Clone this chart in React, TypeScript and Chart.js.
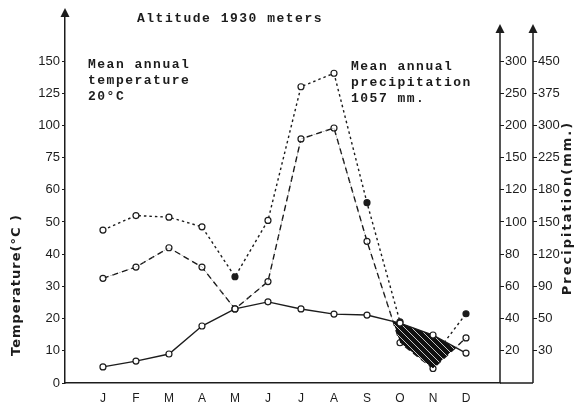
import React, { useEffect, useRef } from "react";
import { Chart, registerables } from "chart.js";

Chart.register(...registerables);

// ---- data ----
const months = ["J", "F", "M", "A", "M", "J", "J", "A", "S", "O", "N", "D"];
const tempTicks = [0, 10, 20, 30, 40, 50, 60, 75, 100, 125, 150];
const precipTicks = [0, 20, 40, 60, 80, 100, 120, 150, 200, 250, 300];
const precipTicksOuter = ["", "30", "50", "90", "120", "150", "180", "225", "300", "375", "450"];
const temperature = [5.0, 6.8, 9.0, 17.7, 23, 25.2, 23, 21.4, 21.1, 18.6, 14.9, 9.3];
const precipDashed = [65, 72, 84, 72, 46, 63, 179, 196, 88, 25, 9, 28];
const precipDotted = [95, 104, 103, 97, 66, 101, 260, 281, 112, 38, 16, 43];
const dottedFilled = [false, false, false, false, true, false, false, false, true, true, false, true];

const ink = "#1c1c1c";
const Y_MAX = (383 - 14) / 32.2;

// position on the evenly spaced tick ladder
function toIndex(v: number, ticks: number[]): number {
  for (let i = 0; i < ticks.length - 1; i++) {
    if (v <= ticks[i + 1]) return i + (v - ticks[i]) / (ticks[i + 1] - ticks[i]);
  }
  return ticks.length - 1;
}

function makeHatch(): CanvasPattern | string {
  const c = document.createElement("canvas");
  c.width = 7;
  c.height = 7;
  const g = c.getContext("2d");
  if (!g) return "#111";
  g.fillStyle = "#111";
  g.fillRect(0, 0, 7, 7);
  g.strokeStyle = "rgba(255,255,255,0.85)";
  g.lineWidth = 0.9;
  g.beginPath();
  g.moveTo(0, 0);
  g.lineTo(7, 7);
  g.moveTo(-3.5, 3.5);
  g.lineTo(3.5, 10.5);
  g.moveTo(3.5, -3.5);
  g.lineTo(10.5, 3.5);
  g.stroke();
  const p = g.createPattern(c, "repeat");
  return p || "#111";
}

const decor = {
  id: "decor",
  afterDraw(chart: any) {
    const ctx: CanvasRenderingContext2D = chart.ctx;
    const area = chart.chartArea;
    const y2 = chart.scales.y2;
    const y3 = chart.scales.y3;
    ctx.save();
    ctx.strokeStyle = ink;
    ctx.fillStyle = ink;
    ctx.lineWidth = 1.5;
    ctx.beginPath();
    ctx.moveTo(area.right, area.bottom);
    ctx.lineTo(y3.left, area.bottom);
    ctx.stroke();
    for (const s of [y2, y3]) {
      ctx.beginPath();
      ctx.moveTo(s.left, 30);
      ctx.lineTo(s.left, area.bottom);
      ctx.stroke();
    }
    const arrow = (x: number, y: number) => {
      ctx.beginPath();
      ctx.moveTo(x, y);
      ctx.lineTo(x - 4.5, y + 9);
      ctx.lineTo(x + 4.5, y + 9);
      ctx.closePath();
      ctx.fill();
    };
    arrow(area.left, 8);
    arrow(y2.left, 24);
    arrow(y3.left, 24);

    ctx.font = 'bold 13px "Liberation Mono"';
    (ctx as any).letterSpacing = "1.5px";
    ctx.textAlign = "left";
    ctx.textBaseline = "middle";
    ctx.fillText("Altitude 1930 meters", 137, 19);
    ctx.fillText("Mean annual", 88, 65);
    ctx.fillText("temperature", 88, 81);
    ctx.fillText("20\u00B0C", 88, 97);
    ctx.fillText("Mean annual", 351, 67);
    ctx.fillText("precipitation", 351, 83);
    ctx.fillText("1057 mm.", 351, 99);

    ctx.font = 'bold 13px "DejaVu Sans"';
    (ctx as any).letterSpacing = "1px";
    ctx.textAlign = "center";
    ctx.save();
    ctx.translate(17, 285);
    ctx.rotate(-Math.PI / 2);
    ctx.fillText("Temperature(\u00B0C )", 0, 0);
    ctx.restore();
    (ctx as any).letterSpacing = "2px";
    ctx.save();
    ctx.translate(568, 208);
    ctx.rotate(-Math.PI / 2);
    ctx.fillText("Precipitation(mm.)", 0, 0);
    ctx.restore();
    (ctx as any).letterSpacing = "0px";
    ctx.restore();
  },
};

export default function App() {
  const ref = useRef<HTMLCanvasElement>(null);
  useEffect(() => {
    const canvas = ref.current;
    if (!canvas) return;
    const hatch = makeHatch();
    const tickFont = { family: "Liberation Sans", size: 13 };
    const chart = new Chart(canvas, {
      type: "line",
      data: {
        datasets: [
          {
            label: "Temperature",
            data: temperature.map((v, i) => ({ x: i, y: toIndex(v, tempTicks) })),
            borderColor: ink,
            borderWidth: 1.4,
            pointRadius: 3,
            pointBackgroundColor: "#fff",
            pointBorderColor: ink,
            pointBorderWidth: 1.2,
            fill: { target: 1, above: hatch, below: "rgba(0,0,0,0)" },
          },
          {
            label: "Precipitation (dashed)",
            data: precipDashed.map((v, i) => ({ x: i, y: toIndex(v, precipTicks) })),
            borderColor: ink,
            borderWidth: 1.4,
            borderDash: [6, 4],
            pointRadius: 3,
            pointBackgroundColor: "#fff",
            pointBorderColor: ink,
            pointBorderWidth: 1.2,
            fill: false,
          },
          {
            label: "Precipitation (dotted)",
            data: precipDotted.map((v, i) => ({ x: i, y: toIndex(v, precipTicks) })),
            borderColor: ink,
            borderWidth: 1.4,
            borderDash: [2.5, 3],
            pointRadius: 3,
            pointBackgroundColor: dottedFilled.map((f) => (f ? ink : "#fff")),
            pointBorderColor: ink,
            pointBorderWidth: 1.2,
            fill: false,
          },
        ],
      },
      options: {
        responsive: false,
        animation: false,
        devicePixelRatio: 1,
        layout: { padding: { top: 14, left: 0, right: 0, bottom: 0 } },
        plugins: {
          legend: { display: false },
          tooltip: { enabled: false },
          title: { display: false },
        },
        scales: {
          x: {
            type: "linear",
            min: -1.15,
            max: 12.03,
            afterBuildTicks: (s: any) => {
              s.ticks = months.map((_, i) => ({ value: i }));
            },
            afterFit: (s: any) => {
              s.height = 23;
            },
            grid: { display: true, drawOnChartArea: false, drawTicks: false },
            border: { display: true, color: ink, width: 1.5 },
            ticks: {
              autoSkip: false,
              maxRotation: 0,
              padding: 8,
              color: ink,
              font: { family: "Liberation Sans", size: 12 },
              callback: (v: any) => months[v as number] ?? "",
            },
          },
          y: {
            type: "linear",
            position: "left",
            min: 0,
            max: Y_MAX,
            afterBuildTicks: (s: any) => {
              s.ticks = tempTicks.map((_, i) => ({ value: i }));
            },
            afterFit: (s: any) => {
              s.width = 65;
            },
            grid: { drawOnChartArea: false, drawTicks: true, tickLength: 3, color: ink },
            border: { display: true, color: ink, width: 1.5 },
            ticks: {
              padding: 2,
              color: ink,
              font: tickFont,
              callback: (v: any) => String(tempTicks[v as number]),
            },
          },
          y2: {
            type: "linear",
            position: "right",
            weight: 0,
            min: 0,
            max: Y_MAX,
            afterBuildTicks: (s: any) => {
              s.ticks = precipTicks.slice(1).map((_, i) => ({ value: i + 1 }));
            },
            afterFit: (s: any) => {
              s.width = 33;
            },
            grid: { drawOnChartArea: false, drawTicks: true, tickLength: 4, color: ink },
            border: { display: false },
            ticks: {
              padding: 1,
              color: ink,
              font: tickFont,
              callback: (v: any) => String(precipTicks[v as number]),
            },
          },
          y3: {
            type: "linear",
            position: "right",
            weight: 1,
            min: 0,
            max: Y_MAX,
            afterBuildTicks: (s: any) => {
              s.ticks = precipTicksOuter.slice(1).map((_, i) => ({ value: i + 1 }));
            },
            afterFit: (s: any) => {
              s.width = 41;
            },
            grid: { drawOnChartArea: false, drawTicks: true, tickLength: 4, color: ink },
            border: { display: false },
            ticks: {
              padding: 1,
              color: ink,
              font: tickFont,
              callback: (v: any) => precipTicksOuter[v as number],
            },
          },
        },
      } as any,
      plugins: [decor],
    });
    return () => chart.destroy();
  }, []);
  return (
    <div style={{ position: "fixed", left: 0, top: 0, width: 574, height: 406, background: "#fff" }}>
      <canvas ref={ref} width={574} height={406} style={{ display: "block", width: 574, height: 406 }} />
    </div>
  );
}
